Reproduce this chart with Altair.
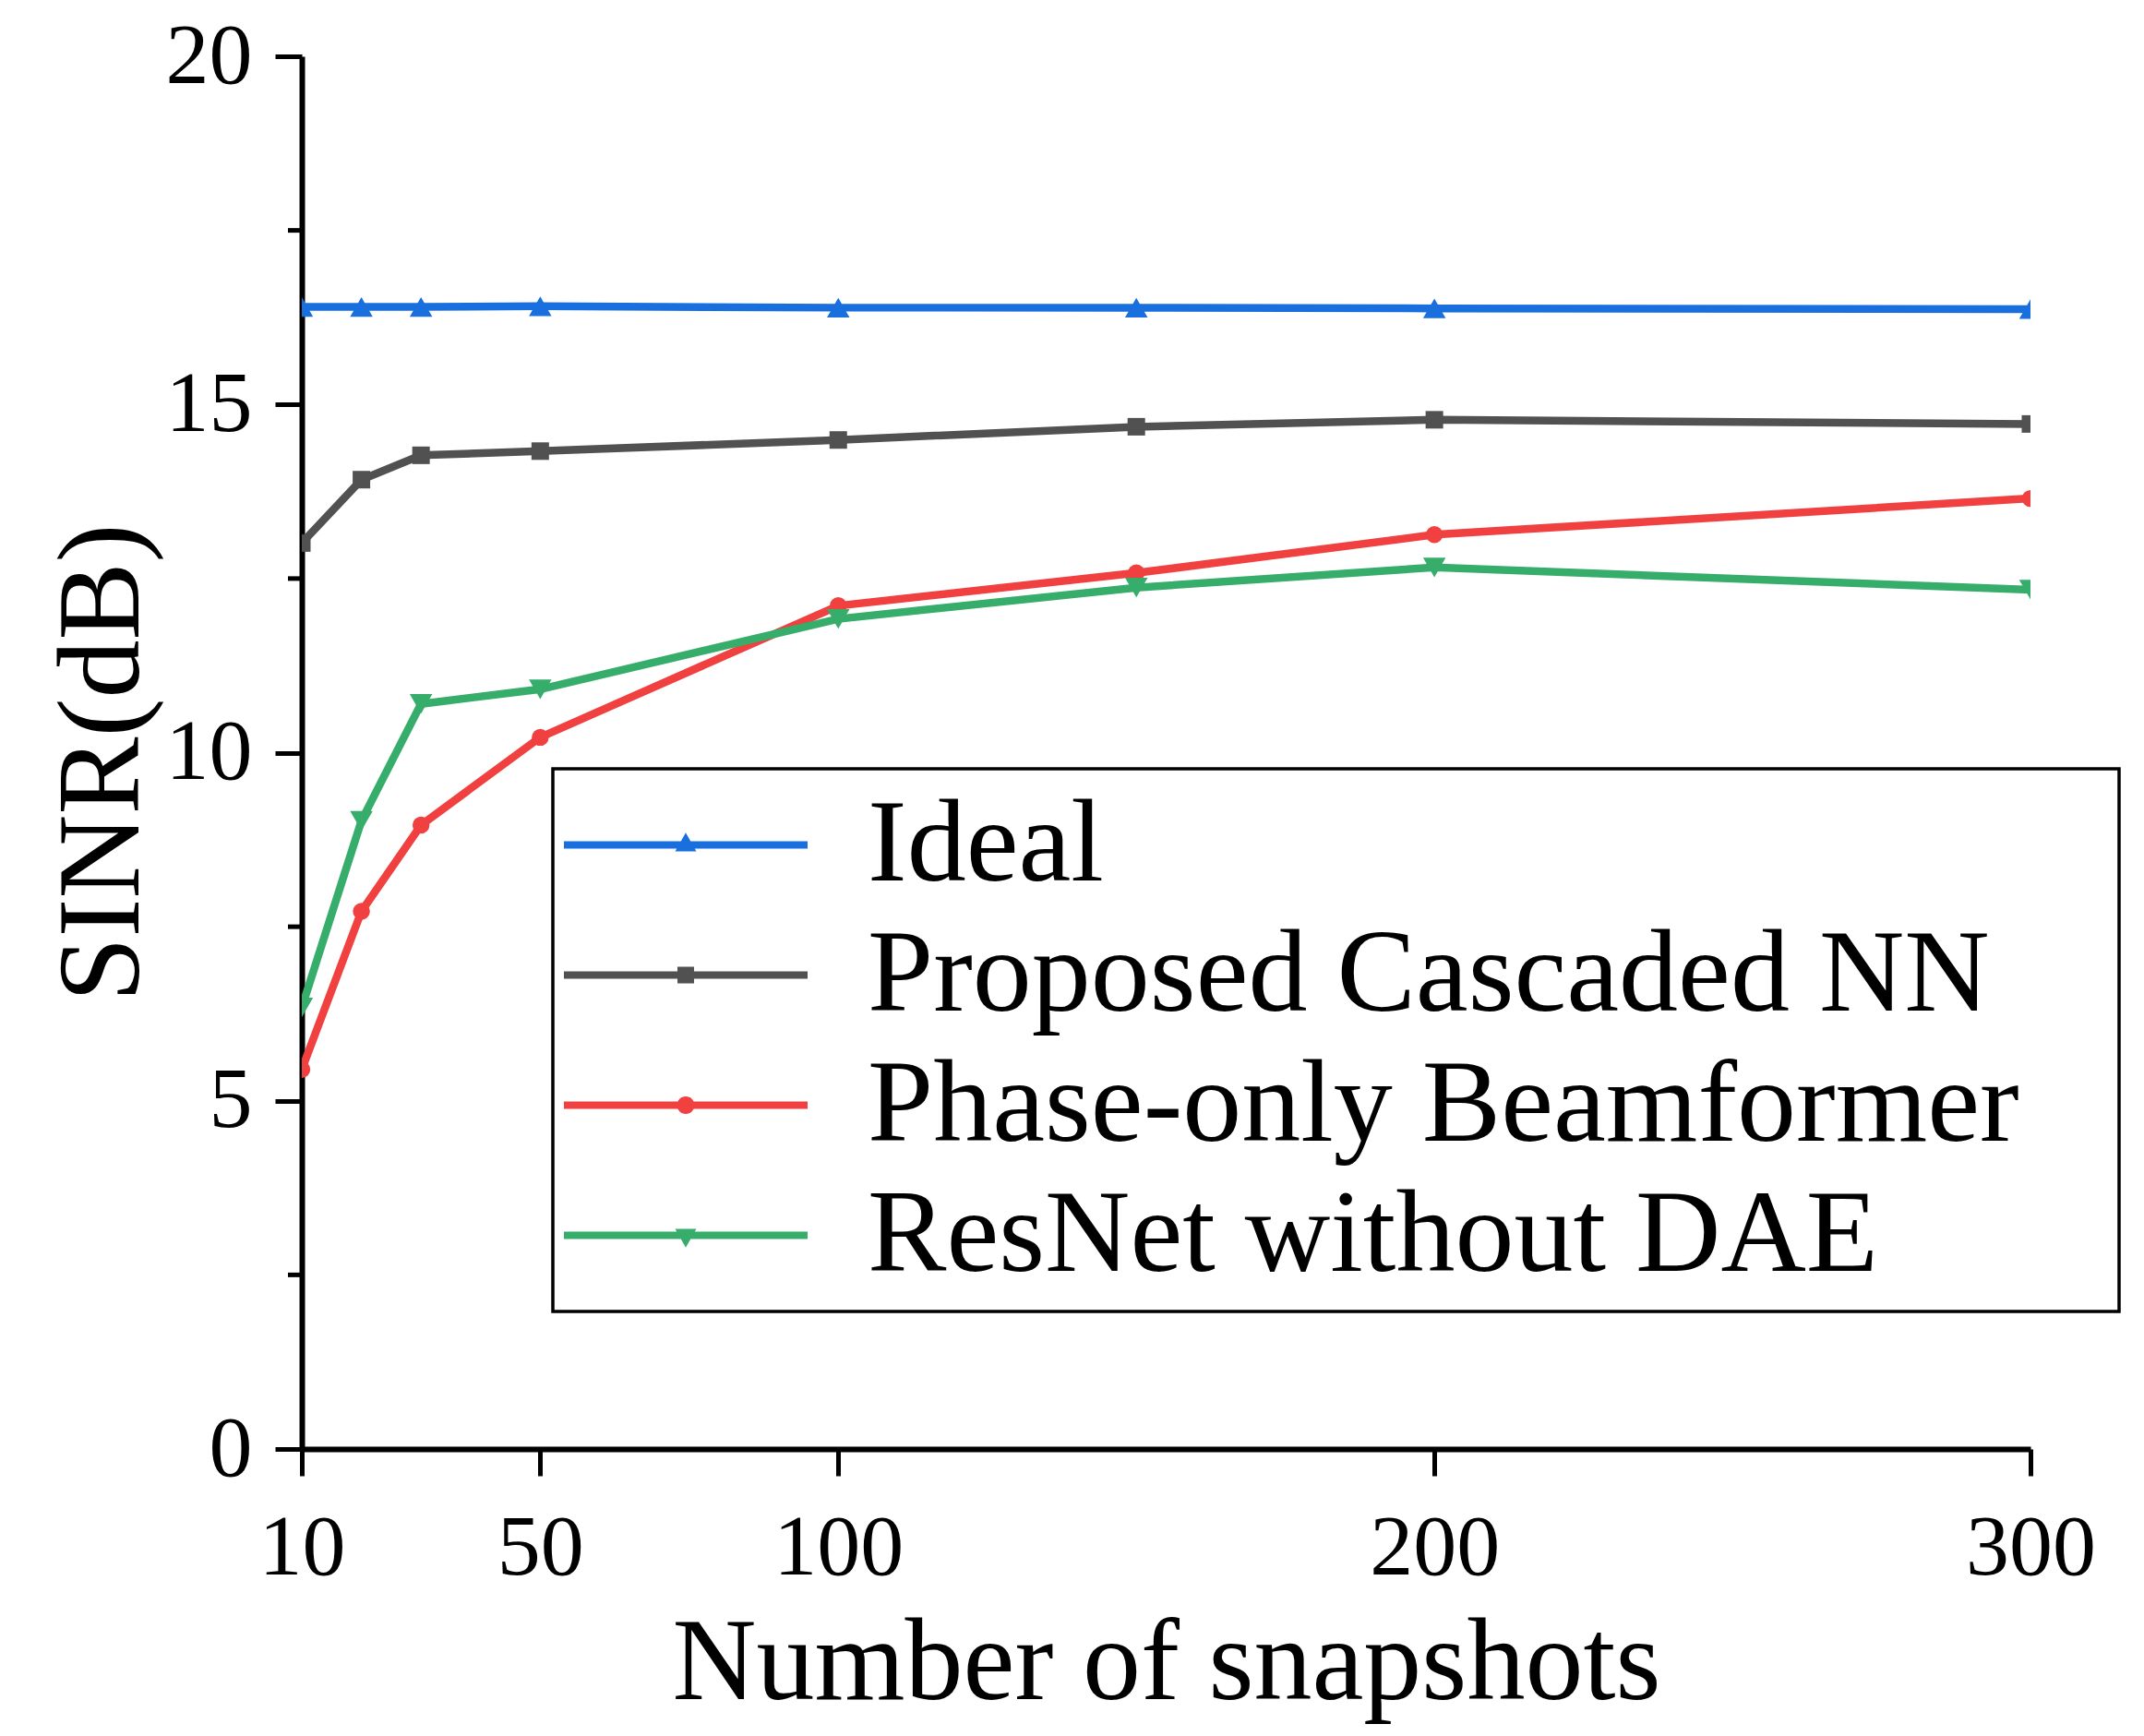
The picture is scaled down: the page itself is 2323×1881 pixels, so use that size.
import altair as alt
import pandas as pd

# values
snapshots = [10, 20, 30, 50, 100, 150, 200, 300]
ideal = [16.40, 16.40, 16.40, 16.41, 16.39, 16.39, 16.38, 16.37]
proposed = [13.01, 13.92, 14.27, 14.33, 14.49, 14.68, 14.78, 14.72]
phase_only = [5.45, 7.72, 8.96, 10.22, 12.11, 12.58, 13.13, 13.65]
resnet = [6.34, 9.02, 10.70, 10.91, 11.92, 12.37, 12.66, 12.34]

series_names = ["Ideal", "Proposed Cascaded NN", "Phase-only Beamformer", "ResNet without DAE"]
series_colors = ["#1a6fdf", "#515151", "#f0403f", "#37ad6b"]
marker_shapes = ["triangle-up", "square", "circle", "triangle-down"]
marker_sizes = [600, 361, 340, 600]

x_ticks = [10, 50, 100, 200, 300]
y_ticks = [0, 5, 10, 15, 20]
y_minor_ticks = [2.5, 7.5, 12.5, 17.5]

# legend glyphs: a bar for the line with the marker in the middle
bar = "M-1,-0.03H1V0.03H-1Z"
legend_paths = [
    bar + "M0,-0.1L0.087,0.053H-0.087Z",
    bar + "M-0.068,-0.068H0.068V0.068H-0.068Z",
    bar + "M-0.072,0A0.072,0.072,0,1,1,0.072,0A0.072,0.072,0,1,1,-0.072,0Z",
    bar + "M0,0.1L-0.087,-0.053H0.087Z",
]
# trailing no-break spaces (kept by a zero-width space) widen the legend box
legend_labels = [name + "\u00a0\u00a0\u00a0\u200b" for name in series_names]

FONT = "Liberation Serif"

rows = []
for name, values in zip(series_names, [ideal, proposed, phase_only, resnet]):
    for s, v in zip(snapshots, values):
        rows.append({"snapshots": s, "sinr": v, "series": name})
df = pd.DataFrame(rows)

x_scale = alt.Scale(domain=[10, 300], nice=False, zero=False)
y_scale = alt.Scale(domain=[0, 20], nice=False, zero=True)

x_enc = alt.X("snapshots:Q", scale=x_scale, axis=alt.Axis(
    values=x_ticks, title="Number of snapshots", labelPadding=32, titlePadding=16))
y_enc = alt.Y("sinr:Q", scale=y_scale, axis=alt.Axis(
    values=y_ticks, title="SINR(dB)", labelPadding=25, titleX=-152, titleY=765))

base = alt.Chart(df)

# one line and one set of markers per series, coloured directly
layers = []
for name, color in zip(series_names, series_colors):
    one = base.transform_filter(alt.datum.series == name)
    layers.append(one.mark_line(color=color, strokeWidth=8.5, clip=True).encode(x=x_enc, y=y_enc))
for name, color, shape, size in zip(series_names, series_colors, marker_shapes, marker_sizes):
    one = base.transform_filter(alt.datum.series == name)
    layers.append(one.mark_point(shape=shape, size=size, color=color, filled=True, opacity=1,
                                 strokeWidth=0, clip=True).encode(x=x_enc, y=y_enc))

legend = alt.Legend(
    title=None, orient="none", legendX=272, legendY=772, padding=12,
    strokeColor="black", fillColor="white",
    symbolSize=69696, symbolStrokeWidth=0, symbolOffset=0, symbolOpacity=1,
    clipHeight=141, rowPadding=0,
    labelFont=FONT, labelFontSize=128, labelColor="black", labelOffset=65,
    labelLimit=4000,
)
# only feeds the legend: every row is filtered out, the scale domains are explicit
legend_layer = base.transform_filter("datum.sinr < -100").mark_point(filled=True, clip=True).encode(
    x=x_enc, y=y_enc,
    fill=alt.Fill("series:N", scale=alt.Scale(domain=legend_labels, range=series_colors), legend=legend),
    shape=alt.Shape("series:N", scale=alt.Scale(domain=legend_labels, range=legend_paths), legend=legend),
)

minor = alt.Chart(pd.DataFrame({"sinr": y_minor_ticks})).mark_rule(
    color="black", strokeWidth=5
).encode(
    y=y_enc,
    x=alt.value(-15), x2=alt.value(0),
)

chart = alt.layer(*layers, legend_layer, minor).properties(
    width=1873, height=1509,
    padding={"left": 319, "top": 53, "right": 115, "bottom": 303},
    autosize=alt.AutoSizeParams(type="none"),
    background="white",
).configure_view(
    stroke=None
).configure_legend(
    strokeWidth=3.5
).configure_axis(
    grid=False, zindex=1,
    domainColor="black", domainWidth=6,
    tickColor="black", tickWidth=5, tickSize=29,
    labelFont=FONT, labelFontSize=94, labelColor="black",
    labelFlush=False, labelOverlap=False,
    titleFont=FONT, titleFontSize=126, titleColor="black", titleFontWeight="normal",
)

chart.save("out.html", embed_options={"renderer": "svg", "actions": False})
